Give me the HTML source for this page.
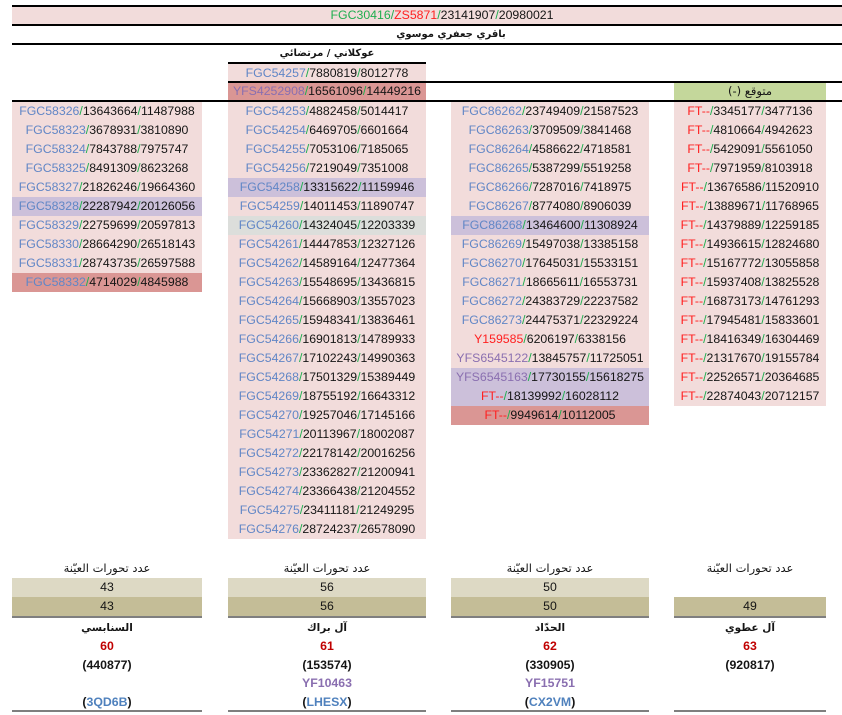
<!DOCTYPE html>
<html><head><meta charset="utf-8">
<style>
*{margin:0;padding:0;box-sizing:border-box}
body{width:842px;height:715px;background:#fff;position:relative;overflow:hidden;font-family:"Liberation Sans","DejaVu Sans",sans-serif;font-size:12.3px;color:#151515}
.a{position:absolute}
.ln{position:absolute;height:2px;background:#000}
.col{position:absolute;background:#f2dcdb}
.col div{height:19px;line-height:19px;text-align:center;white-space:nowrap}
.t{text-align:center;white-space:nowrap;height:19px;line-height:19px}
i{font-style:normal;color:#6186c6}
u{text-decoration:none;color:#1fae4f}
em{font-style:normal;color:#ff2020}
var{font-style:normal;color:#8a6fb0}
.pu{background:#ccc0da}
.sa{background:#da9694}
.gr{background:#dcdedb}
.ar{font-family:"DejaVu Sans",sans-serif}
.k1{background:#ddd9c4}
.k2{background:#c4bd97}
.gl{position:absolute;height:2px;background:#7f7f7f}
.bd{font-weight:bold}
</style></head><body>
<!-- header -->
<div class="ln" style="top:5px;left:12px;width:830px"></div>
<div class="a" style="top:7px;left:12px;width:830px;height:17px;background:#f2dcdb"></div>
<div class="a t" style="top:7px;left:242px;width:400px;height:17px;line-height:17px"><u>FGC30416</u><u>/</u><em>ZS5871</em><u>/</u>23141907<u>/</u>20980021</div>
<div class="ln" style="top:24px;left:12px;width:830px"></div>
<div class="a t ar bd" style="top:25px;left:251px;width:400px;font-size:10px" dir="rtl">باقري جعفري موسوي</div>
<div class="ln" style="top:43px;left:12px;width:830px"></div>
<div class="a t ar bd" style="top:44px;left:228px;width:198px;font-size:10px" dir="rtl">عوكلاني / مرتضائي</div>
<div class="ln" style="top:62px;left:228px;width:198px"></div>
<div class="a t" style="top:64px;left:228px;width:198px;background:#f2dcdb"><i>FGC54257</i><u>/</u>7880819<u>/</u>8012778</div>
<div class="ln" style="top:81px;left:228px;width:614px"></div>
<div class="a t sa" style="top:83px;left:228px;width:198px;height:17px;line-height:17px"><var>YFS4252908</var><u>/</u>16561096<u>/</u>14449216</div>
<div class="a t ar" style="top:83px;left:674px;width:152px;height:17px;line-height:17px;background:#c4d79b;font-size:11.5px" dir="rtl">متوقع (-)</div>
<div class="ln" style="top:100px;left:12px;width:830px"></div>

<!-- col1 -->
<div class="col" style="top:102px;left:12px;width:190px">
<div><i>FGC58326</i><u>/</u>13643664<u>/</u>11487988</div>
<div><i>FGC58323</i><u>/</u>3678931<u>/</u>3810890</div>
<div><i>FGC58324</i><u>/</u>7843788<u>/</u>7975747</div>
<div><i>FGC58325</i><u>/</u>8491309<u>/</u>8623268</div>
<div><i>FGC58327</i><u>/</u>21826246<u>/</u>19664360</div>
<div class="pu"><i>FGC58328</i><u>/</u>22287942<u>/</u>20126056</div>
<div><i>FGC58329</i><u>/</u>22759699<u>/</u>20597813</div>
<div><i>FGC58330</i><u>/</u>28664290<u>/</u>26518143</div>
<div><i>FGC58331</i><u>/</u>28743735<u>/</u>26597588</div>
<div class="sa"><i>FGC58332</i><u>/</u>4714029<u>/</u>4845988</div>
</div>

<!-- col2 -->
<div class="col" style="top:102px;left:228px;width:198px">
<div><i>FGC54253</i><u>/</u>4882458<u>/</u>5014417</div>
<div><i>FGC54254</i><u>/</u>6469705<u>/</u>6601664</div>
<div><i>FGC54255</i><u>/</u>7053106<u>/</u>7185065</div>
<div><i>FGC54256</i><u>/</u>7219049<u>/</u>7351008</div>
<div class="pu"><i>FGC54258</i><u>/</u>13315622<u>/</u>11159946</div>
<div><i>FGC54259</i><u>/</u>14011453<u>/</u>11890747</div>
<div class="gr"><i>FGC54260</i><u>/</u>14324045<u>/</u>12203339</div>
<div><i>FGC54261</i><u>/</u>14447853<u>/</u>12327126</div>
<div><i>FGC54262</i><u>/</u>14589164<u>/</u>12477364</div>
<div><i>FGC54263</i><u>/</u>15548695<u>/</u>13436815</div>
<div><i>FGC54264</i><u>/</u>15668903<u>/</u>13557023</div>
<div><i>FGC54265</i><u>/</u>15948341<u>/</u>13836461</div>
<div><i>FGC54266</i><u>/</u>16901813<u>/</u>14789933</div>
<div><i>FGC54267</i><u>/</u>17102243<u>/</u>14990363</div>
<div><i>FGC54268</i><u>/</u>17501329<u>/</u>15389449</div>
<div><i>FGC54269</i><u>/</u>18755192<u>/</u>16643312</div>
<div><i>FGC54270</i><u>/</u>19257046<u>/</u>17145166</div>
<div><i>FGC54271</i><u>/</u>20113967<u>/</u>18002087</div>
<div><i>FGC54272</i><u>/</u>22178142<u>/</u>20016256</div>
<div><i>FGC54273</i><u>/</u>23362827<u>/</u>21200941</div>
<div><i>FGC54274</i><u>/</u>23366438<u>/</u>21204552</div>
<div><i>FGC54275</i><u>/</u>23411181<u>/</u>21249295</div>
<div><i>FGC54276</i><u>/</u>28724237<u>/</u>26578090</div>
</div>

<!-- col3 -->
<div class="col" style="top:102px;left:451px;width:198px">
<div><i>FGC86262</i><u>/</u>23749409<u>/</u>21587523</div>
<div><i>FGC86263</i><u>/</u>3709509<u>/</u>3841468</div>
<div><i>FGC86264</i><u>/</u>4586622<u>/</u>4718581</div>
<div><i>FGC86265</i><u>/</u>5387299<u>/</u>5519258</div>
<div><i>FGC86266</i><u>/</u>7287016<u>/</u>7418975</div>
<div><i>FGC86267</i><u>/</u>8774080<u>/</u>8906039</div>
<div class="pu"><i>FGC86268</i><u>/</u>13464600<u>/</u>11308924</div>
<div><i>FGC86269</i><u>/</u>15497038<u>/</u>13385158</div>
<div><i>FGC86270</i><u>/</u>17645031<u>/</u>15533151</div>
<div><i>FGC86271</i><u>/</u>18665611<u>/</u>16553731</div>
<div><i>FGC86272</i><u>/</u>24383729<u>/</u>22237582</div>
<div><i>FGC86273</i><u>/</u>24475371<u>/</u>22329224</div>
<div><em>Y159585</em><u>/</u>6206197<u>/</u>6338156</div>
<div><var>YFS6545122</var><u>/</u>13845757<u>/</u>11725051</div>
<div class="pu"><var>YFS6545163</var><u>/</u>17730155<u>/</u>15618275</div>
<div class="pu"><em>FT--</em><u>/</u>18139992<u>/</u>16028112</div>
<div class="sa"><em>FT--</em><u>/</u>9949614<u>/</u>10112005</div>
</div>

<!-- col4 -->
<div class="col" style="top:102px;left:674px;width:152px">
<div><em>FT--</em><u>/</u>3345177<u>/</u>3477136</div>
<div><em>FT--</em><u>/</u>4810664<u>/</u>4942623</div>
<div><em>FT--</em><u>/</u>5429091<u>/</u>5561050</div>
<div><em>FT--</em><u>/</u>7971959<u>/</u>8103918</div>
<div><em>FT--</em><u>/</u>13676586<u>/</u>11520910</div>
<div><em>FT--</em><u>/</u>13889671<u>/</u>11768965</div>
<div><em>FT--</em><u>/</u>14379889<u>/</u>12259185</div>
<div><em>FT--</em><u>/</u>14936615<u>/</u>12824680</div>
<div><em>FT--</em><u>/</u>15167772<u>/</u>13055858</div>
<div><em>FT--</em><u>/</u>15937408<u>/</u>13825528</div>
<div><em>FT--</em><u>/</u>16873173<u>/</u>14761293</div>
<div><em>FT--</em><u>/</u>17945481<u>/</u>15833601</div>
<div><em>FT--</em><u>/</u>18416349<u>/</u>16304469</div>
<div><em>FT--</em><u>/</u>21317670<u>/</u>19155784</div>
<div><em>FT--</em><u>/</u>22526571<u>/</u>20364685</div>
<div><em>FT--</em><u>/</u>22874043<u>/</u>20712157</div>
</div>

<!-- bottom col1 -->
<div class="a t ar" style="top:559px;left:12px;width:190px;font-size:11.5px" dir="rtl">عدد تحورات العيّنة</div>
<div class="a t k1" style="top:578px;left:12px;width:190px">43</div>
<div class="a t k2" style="top:597px;left:12px;width:190px">43</div>
<div class="gl" style="top:616px;left:12px;width:190px"></div>
<div class="a t ar bd" style="top:619px;left:12px;width:190px;font-size:10.5px" dir="rtl">السنابسي</div>
<div class="a t bd" style="top:637px;left:12px;width:190px;color:#c00000">60</div>
<div class="a t bd" style="top:656px;left:12px;width:190px">(440877)</div>
<div class="a t bd" style="top:693px;left:12px;width:190px">(<i style="color:#4f81bd">3QD6B</i>)</div>
<div class="gl" style="top:710px;left:12px;width:190px"></div>

<!-- bottom col2 -->
<div class="a t ar" style="top:559px;left:228px;width:198px;font-size:11.5px" dir="rtl">عدد تحورات العيّنة</div>
<div class="a t k1" style="top:578px;left:228px;width:198px">56</div>
<div class="a t k2" style="top:597px;left:228px;width:198px">56</div>
<div class="gl" style="top:616px;left:228px;width:198px"></div>
<div class="a t ar bd" style="top:619px;left:228px;width:198px;font-size:10.5px" dir="rtl">آل براك</div>
<div class="a t bd" style="top:637px;left:228px;width:198px;color:#c00000">61</div>
<div class="a t bd" style="top:656px;left:228px;width:198px">(153574)</div>
<div class="a t bd" style="top:674px;left:228px;width:198px;color:#8a6fb0">YF10463</div>
<div class="a t bd" style="top:693px;left:228px;width:198px">(<i style="color:#4f81bd">LHESX</i>)</div>
<div class="gl" style="top:710px;left:228px;width:198px"></div>

<!-- bottom col3 -->
<div class="a t ar" style="top:559px;left:451px;width:198px;font-size:11.5px" dir="rtl">عدد تحورات العيّنة</div>
<div class="a t k1" style="top:578px;left:451px;width:198px">50</div>
<div class="a t k2" style="top:597px;left:451px;width:198px">50</div>
<div class="gl" style="top:616px;left:451px;width:198px"></div>
<div class="a t ar bd" style="top:619px;left:451px;width:198px;font-size:10.5px" dir="rtl">الحدّاد</div>
<div class="a t bd" style="top:637px;left:451px;width:198px;color:#c00000">62</div>
<div class="a t bd" style="top:656px;left:451px;width:198px">(330905)</div>
<div class="a t bd" style="top:674px;left:451px;width:198px;color:#8a6fb0">YF15751</div>
<div class="a t bd" style="top:693px;left:451px;width:198px">(<i style="color:#4f81bd">CX2VM</i>)</div>
<div class="gl" style="top:710px;left:451px;width:198px"></div>

<!-- bottom col4 -->
<div class="a t ar" style="top:559px;left:674px;width:152px;font-size:11.5px" dir="rtl">عدد تحورات العيّنة</div>
<div class="a t k2" style="top:597px;left:674px;width:152px">49</div>
<div class="gl" style="top:616px;left:674px;width:152px"></div>
<div class="a t ar bd" style="top:619px;left:674px;width:152px;font-size:10.5px" dir="rtl">آل عطوي</div>
<div class="a t bd" style="top:637px;left:674px;width:152px;color:#c00000">63</div>
<div class="a t bd" style="top:656px;left:674px;width:152px">(920817)</div>
<div class="gl" style="top:710px;left:674px;width:152px"></div>
</body></html>
